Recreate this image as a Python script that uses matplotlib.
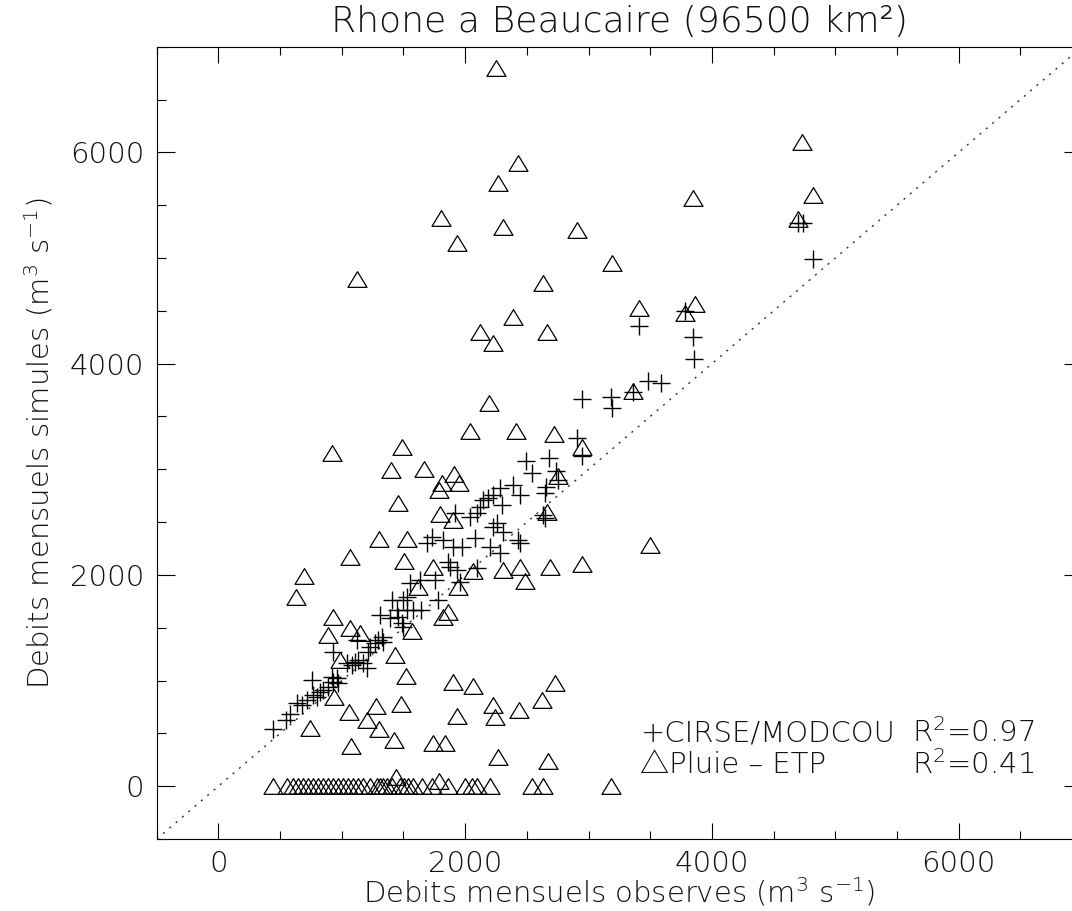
"""Rhone a Beaucaire: simulated vs observed monthly discharge."""

import matplotlib
matplotlib.use("Agg")
import matplotlib.pyplot as plt
from matplotlib.path import Path
from matplotlib.ticker import MultipleLocator

# CIRSE/MODCOU (pluses): observed, simulated
modcou_obs = [
    4700, 4738, 4817, 3782, 3412, 3849, 3857, 3482, 3587, 3363,
    2950, 3185, 3190, 2904, 2950, 2491, 2680, 2540, 2734, 2391,
    2445, 2653, 2648, 2755, 2283, 2224, 2188,
    446, 549, 581, 635, 676, 716, 757, 770, 797, 824,
    851, 891, 919, 932, 959, 972, 932, 1040, 1081, 1108,
    1135, 1175, 1202, 1121, 1216, 1229, 1270, 1297, 1324, 1337,
    1310, 1391, 1405, 1446, 1459, 1486, 1499, 1527, 1580, 1640,
    1499, 1527, 1553, 1634, 1689, 1729, 1756, 1783, 1824, 1864,
    1878, 1905, 1932, 1959, 1918, 1972, 2040, 2080, 2094, 2121,
    2148, 2202, 2229, 2256, 2297, 2283, 2310, 2431, 2445, 2634,
    2648, 2094,
]
modcou_sim = [
    5329, 5334, 4988, 4498, 4356, 4255, 4047, 3838, 3819, 3734,
    3662, 3687, 3577, 3293, 3125, 3081, 3103, 2961, 2986, 2850,
    2756, 2834, 2772, 2898, 2819, 2756, 2724,
    537, 625, 688, 783, 767, 814, 1010, 862, 846, 893,
    909, 940, 1035, 988, 1020, 973, 1272, 1162, 1146, 1177,
    1193, 1162, 1115, 1383, 1272, 1319, 1351, 1383, 1414, 1366,
    1619, 1588, 1761, 1667, 1603, 1541, 1509, 1667, 1667, 1667,
    1761, 1793, 1919, 1951, 2298, 2361, 1951, 1761, 2330, 2124,
    2077, 2266, 2045, 1935, 2582, 2266, 2550, 2346, 2582, 2645,
    2708, 2266, 2455, 2488, 2661, 2204, 2408, 2330, 2298, 2566,
    2535, 2061,
]

# Pluie - ETP (triangles): observed, simulated
etp_obs = [
    2250, 1120, 920, 1400, 3500, 3180,
    4728, 2426, 2269, 4817, 3847, 1802, 2305, 2909, 4700, 1934,
    3188, 2634, 3412, 3861, 3782, 2386, 2121, 2666, 2229, 3363,
    2191, 2040, 2415, 2718, 1486, 2947, 1667, 1912, 1810, 1953,
    1791, 2755,
    1459, 1797, 1905, 2661, 1305, 1527, 1067, 1505, 2950, 2688,
    2305, 2445, 2062, 2485, 694, 630, 1737, 1621, 1945, 1864,
    1818, 932, 891, 1067, 1148, 1567, 1432, 986, 1521, 1899,
    2062, 2729, 938, 2621, 1057, 1278, 1478, 1202, 2229, 2437,
    1937, 2242, 1300, 746, 1427, 1075, 1743, 1838, 2264, 2674,
    446, 554, 608, 649, 689, 730, 770, 810, 851, 891,
    932, 972, 1013, 1054, 1094, 1135, 1175, 1229, 1283, 1310,
    1337, 1370, 1405, 1440, 1472, 1505, 1540, 1580, 1648, 1729,
    1791, 1864, 1999, 2053, 2094, 2202, 2540, 2634,
]
etp_sim = [
    6800, 4800, 3150, 2990, 2280, 0,
    6101, 5897, 5707, 5597, 5571, 5376, 5291, 5265, 5366, 5145,
    4955, 4766, 4529, 4564, 4482, 4438, 4302, 4299, 4192, 3741,
    3630, 3365, 3365, 3336, 3213, 3213, 3002, 2952, 2872, 2866,
    2803, 2936,
    2677, 2576, 2519, 2598, 2336, 2336, 2166, 2131, 2102, 2077,
    2045, 2077, 2039, 1944, 1991, 1787, 2077, 1882, 1882, 1651,
    1598, 1603, 1430, 1493, 1446, 1468, 1241, 1193, 1045, 988,
    950, 978, 840, 814, 698, 758, 777, 625, 767, 726,
    663, 651, 543, 552, 442, 379, 410, 410, 272, 240,
    0, 0, 0, 0, 0, 0, 0, 0, 0, 0,
    0, 0, 0, 0, 0, 0, 0, 0, 0, 0,
    0, 0, 0, 85, 0, 0, 0, 0, 0, 0,
    49, 0, 0, 0, 0, 0, 0, 0,
]

AX_MIN, AX_MAX = -500, 7000
TEXT = "#111111"
FAMILY = ["DejaVu Sans", "Noto Sans CJK SC"]
FONT = dict(color=TEXT, fontweight="light", family=FAMILY)

plt.rcParams["font.family"] = FAMILY
plt.rcParams["mathtext.fontset"] = "custom"
plt.rcParams["mathtext.rm"] = "DejaVu Sans:light"
plt.rcParams["mathtext.default"] = "rm"

fig = plt.figure(figsize=(10.72, 9.11), dpi=100)
ax = fig.add_axes([0.1462, 0.0790, 0.8632, 0.8697])

# 1:1 line
ax.plot([AX_MIN, AX_MAX], [AX_MIN, AX_MAX], color="#333333", lw=1.0,
        linestyle=(0, (1.5, 4.5)))

tri = Path([(-1, -0.825), (1, -0.825), (0, 0.825), (-1, -0.825)], closed=True)
ax.plot(etp_obs, etp_sim, linestyle="none", marker=tri, ms=13.7,
        mfc="none", mec="black", mew=0.9)
ax.plot(modcou_obs, modcou_sim, linestyle="none", marker="+", ms=13,
        mec="black", mew=1.0)

ax.set_xlim(AX_MIN, AX_MAX)
ax.set_ylim(AX_MIN, AX_MAX)
for a in (ax.xaxis, ax.yaxis):
    a.set_major_locator(MultipleLocator(2000))
    a.set_minor_locator(MultipleLocator(500))
ax.tick_params(which="both", direction="in", top=True, right=True,
               labelsize=21, labelcolor=TEXT, width=0.8)
ax.tick_params(axis="x", which="major", length=11.4, pad=8)
ax.tick_params(axis="x", which="minor", length=5.7)
ax.tick_params(axis="y", which="major", length=13.3, pad=9)
ax.tick_params(axis="y", which="minor", length=6.7)
for lab in ax.get_xticklabels() + ax.get_yticklabels():
    lab.set_fontweight("light")
for s in ax.spines.values():
    s.set_linewidth(0.8)

ax.set_xlabel(r"Debits mensuels observes (m$^3$ s$^{-1}$)", fontsize=21,
              labelpad=-2, **FONT)
ax.set_ylabel(r"Debits mensuels simules (m$^3$ s$^{-1}$)", fontsize=21,
              labelpad=10, **FONT)
fig.text(0.578, 0.976, "Rhone a Beaucaire (96500 km²)", fontsize=26,
         ha="center", va="center", **FONT)

# legend written as plain text, as in the original
ax.text(3420, 500, "+CIRSE/MODCOU", fontsize=21, va="center", **FONT)
ax.text(3420, 198, "\u25b3Pluie \u2013 ETP", fontsize=21, va="center", **FONT)
ax.text(5620, 500, r"R$^2$=0.97", fontsize=21, va="center", **FONT)
ax.text(5620, 198, r"R$^2$=0.41", fontsize=21, va="center", **FONT)

fig.savefig("out.png", dpi=100)
